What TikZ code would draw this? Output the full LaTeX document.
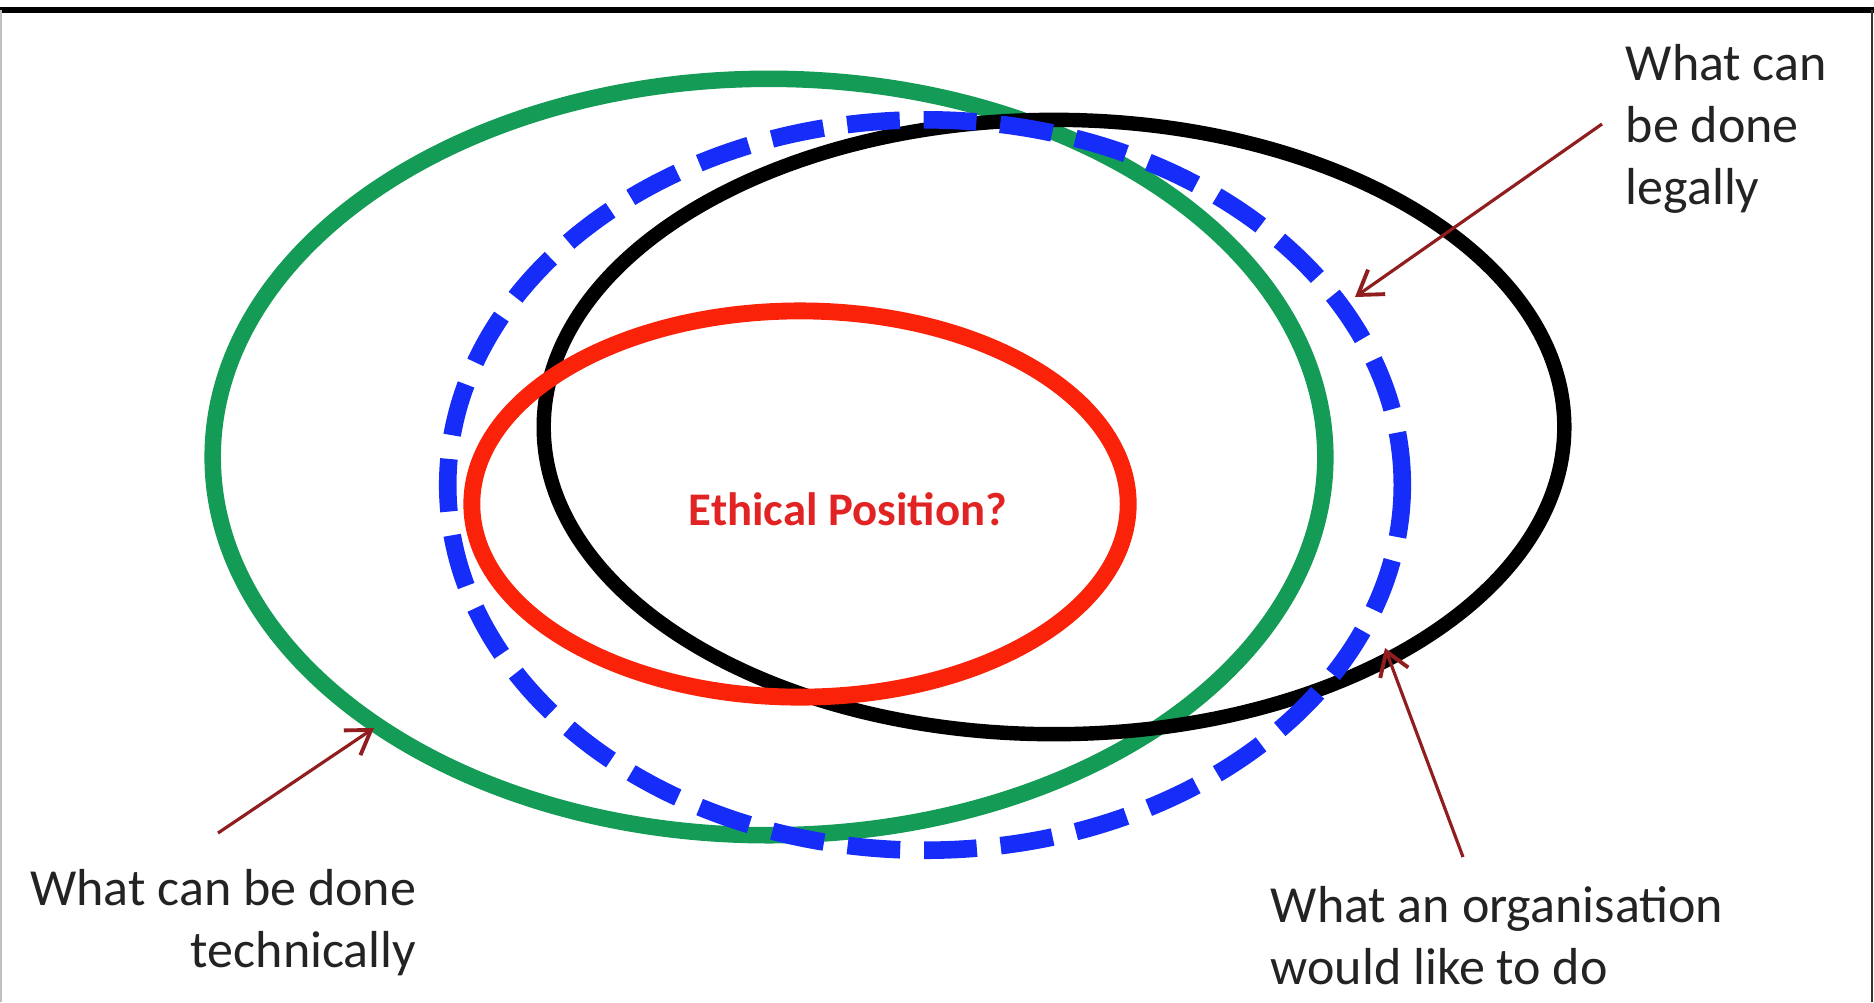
\documentclass[tikz,border=0pt]{standalone}
\usepackage{fontspec}
\setmainfont{Carlito}
\usetikzlibrary{arrows.meta}
\definecolor{grn}{RGB}{20,155,85}
\definecolor{blu}{RGB}{22,45,250}
\definecolor{redc}{RGB}{250,35,10}
\definecolor{arr}{RGB}{145,30,30}
\definecolor{txt}{RGB}{35,35,35}
\definecolor{ethic}{RGB}{225,35,35}
\begin{document}
\begin{tikzpicture}[x=0.01cm,y=-0.01cm,
  lbl/.style={font=\fontsize{14.8pt}{17.6pt}\selectfont, text=txt, inner sep=0pt},
  pointer/.style={draw=arr, line width=0.9pt, -{Straight Barb[length=6.5pt,width=8.5pt,line width=1.1pt]}},
  greenring/.style={draw=grn, line width=4.7pt},
  blackring/.style={draw=black, line width=4.1pt},
  bluering/.style={draw=blu, line width=5pt, dash pattern=on 15pt off 6.8pt},
  redring/.style={draw=redc, line width=4.8pt}]
\useasboundingbox (0,0) rectangle (1874,1002);
% frame
\draw[line width=1.8pt, black] (0,10) -- (1874,10);
\draw[line width=0.6pt, black!80] (1872,10) -- (1872,1002);
\draw[line width=0.4pt, black!25] (1,10) -- (1,1002);
% ellipse centres
\coordinate (cg) at (769,457);
\coordinate (cb) at (925,485);
\coordinate (ck) at (1054,427);
\coordinate (cr) at (800,504);
\draw[greenring] (cg) ellipse [x radius=5.56cm, y radius=3.78cm];
\draw[blackring] (ck) ellipse [x radius=5.10cm, y radius=3.07cm];
\draw[bluering] (cb) ellipse [x radius=4.77cm, y radius=3.65cm];
\draw[redring] (cr) ellipse [x radius=3.28cm, y radius=1.93cm];
% texts
\node[font=\fontsize{13.3pt}{15pt}\selectfont\bfseries, text=ethic, anchor=base, inner sep=0pt] (eth) at (848,525) {Ethical Position?};
\node[lbl, anchor=north west, align=left] (legal) at (1625,44) {What can\\be done\\legally};
\node[lbl, anchor=north east, align=right] (tech) at (417,869) {What can be done\\technically};
\node[lbl, anchor=north west, align=left] (org) at (1270,886) {What an organisation\\would like to do};
% arrows
\coordinate (t1) at (1602,124);
\coordinate (h1) at (1355,297);
\coordinate (t2) at (218,833);
\coordinate (h2) at (374,728);
\coordinate (t3) at (1463,857);
\coordinate (h3) at (1385,648);
\draw[pointer] (t1) -- (h1);
\draw[pointer] (t2) -- (h2);
\draw[pointer] (t3) -- (h3);
\end{tikzpicture}
\end{document}
